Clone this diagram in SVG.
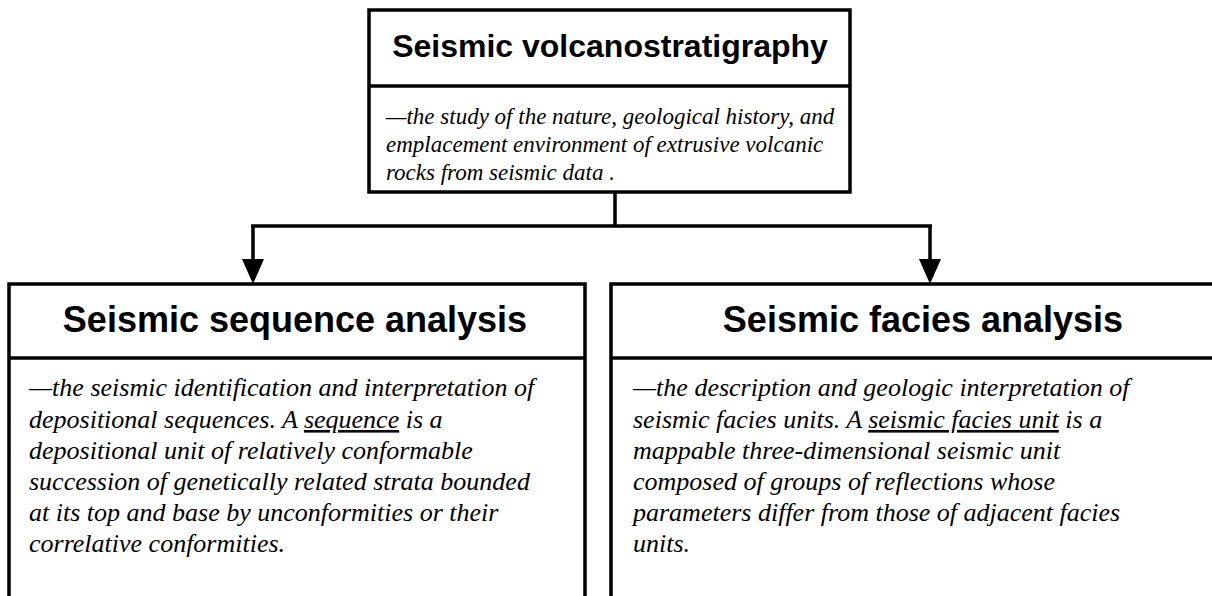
<svg xmlns="http://www.w3.org/2000/svg" width="1212" height="596" viewBox="0 0 1212 596">
<defs>
<style>
.box{fill:#fff;stroke:#000;stroke-width:3.5}
.div{stroke:#000;stroke-width:3.5}
.title{font-family:"Liberation Sans",Arial,sans-serif;font-weight:bold;font-size:36px;fill:#000;text-anchor:middle}
.title-top{font-size:32px}
.body{font-family:"Liberation Serif","Times New Roman",serif;font-style:italic;font-size:26px;fill:#000}
.body-top{font-size:23px}
.conn{fill:none;stroke:#000;stroke-width:3.5}
.head{fill:#000}
</style>
</defs>
<rect width="1212" height="596" fill="#fff"/>
<g id="connectors">
<path class="conn" d="M615,192 V226"/>
<path class="conn" d="M251,226 H932"/>
<path class="conn" d="M253,226 V260"/>
<path class="conn" d="M930,226 V260"/>
<path class="head" d="M242,259 L264,259 L253,284 Z"/>
<path class="head" d="M919,259 L941,259 L930,284 Z"/>
</g>
<g id="node-top">
<rect class="box" x="369" y="10" width="481" height="182"/>
<line class="div" x1="369" y1="86" x2="850" y2="86"/>
<text class="title title-top" x="610" y="57">Seismic volcanostratigraphy</text>
<text class="body body-top" x="386" y="124">—the study of the nature, geological history, and</text>
<text class="body body-top" x="386" y="152">emplacement environment of extrusive volcanic</text>
<text class="body body-top" x="386" y="180">rocks from seismic data .</text>
</g>
<g id="node-sequence">
<rect class="box" x="9" y="284" width="576" height="330"/>
<line class="div" x1="9" y1="358" x2="585" y2="358"/>
<text class="title" x="295" y="332">Seismic sequence analysis</text>
<text class="body" x="29" y="396">—the seismic identification and interpretation of</text>
<text class="body" x="29" y="428">depositional sequences. A <tspan text-decoration="underline">sequence</tspan> is a</text>
<text class="body" x="29" y="459">depositional unit of relatively conformable</text>
<text class="body" x="29" y="490">succession of genetically related strata bounded</text>
<text class="body" x="29" y="521">at its top and base by unconformities or their</text>
<text class="body" x="29" y="552">correlative conformities.</text>
</g>
<g id="node-facies">
<rect class="box" x="611" y="284" width="620" height="330"/>
<line class="div" x1="611" y1="358" x2="1231" y2="358"/>
<text class="title" x="923" y="332">Seismic facies analysis</text>
<text class="body" x="633" y="396">—the description and geologic interpretation of</text>
<text class="body" x="633" y="428">seismic facies units. A <tspan text-decoration="underline">seismic facies unit</tspan> is a</text>
<text class="body" x="633" y="459">mappable three-dimensional seismic unit</text>
<text class="body" x="633" y="490">composed of groups of reflections whose</text>
<text class="body" x="633" y="521">parameters differ from those of adjacent facies</text>
<text class="body" x="633" y="552">units.</text>
</g>
</svg>
